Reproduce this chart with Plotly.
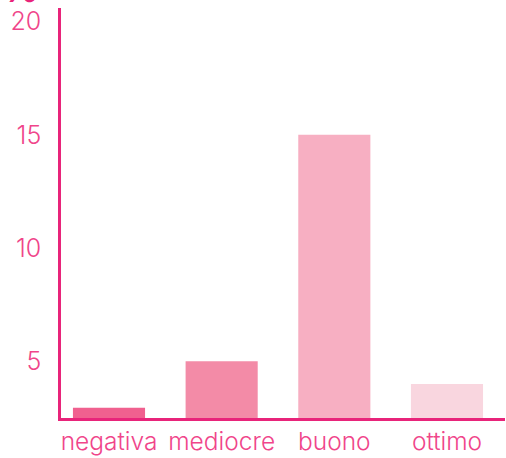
import plotly.graph_objects as go

categories = ["negativa", "mediocre", "buono", "ottimo"]
values = [2.95, 5.0, 15.0, 4.0]
bar_colors = ["#F0608F", "#F38BA7", "#F7AFC2", "#F9D6DF"]
tick_values = [5, 10, 15, 20]
tick_labels = ["5", "10", "15", "20"]

PINK = "#E8247A"
TEXT = "#F0458A"
FONT = "Inter"

fig = go.Figure(
    go.Bar(
        x=categories,
        y=values,
        marker=dict(color=bar_colors, line=dict(width=0)),
        hoverinfo="skip",
    )
)

fig.update_layout(
    width=506,
    height=458,
    margin=dict(l=61, r=1, t=8, b=40),
    paper_bgcolor="white",
    plot_bgcolor="white",
    bargap=0.36,
    showlegend=False,
    font=dict(family=FONT, color=TEXT, size=24, weight=300),
)

fig.update_xaxes(
    type="category",
    range=[-0.426, 3.515],
    showline=True,
    linecolor=PINK,
    linewidth=2.5,
    showgrid=False,
    zeroline=False,
    ticks="",
    tickfont=dict(family=FONT, size=24.5, color=TEXT, weight=300),
)

fig.update_yaxes(
    range=[2.5, 20.6],
    tickvals=tick_values,
    ticktext=tick_labels,
    showline=True,
    linecolor=PINK,
    linewidth=2.5,
    showgrid=False,
    zeroline=False,
    ticks="",
    ticklabelstandoff=12,
    tickfont=dict(family=FONT, size=25, color=TEXT, weight=300),
)

fig.add_annotation(
    text="%",
    xref="paper",
    yref="paper",
    x=-61 / 444,
    y=0.988,
    xanchor="left",
    yanchor="bottom",
    showarrow=False,
    font=dict(family=FONT, size=36, color=PINK, weight=700),
)

fig.write_html("out.html")
